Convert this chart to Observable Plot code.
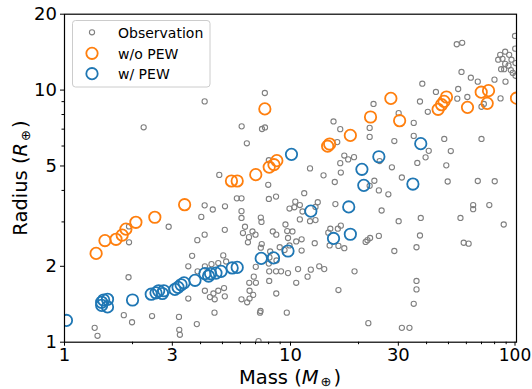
<!DOCTYPE html>
<html>
<head>
<meta charset="utf-8">
<script src="https://cdn.jsdelivr.net/npm/d3@7"></script>
<script src="https://cdn.jsdelivr.net/npm/@observablehq/plot@0.6"></script>
<style>
  html, body { margin: 0; padding: 0; background: white; }
</style>
</head>
<body>
<div id="chart"></div>
<script>
// [mass (M_earth), radius (R_earth)]
const observations = [
[2.24,7.12],[4.17,9.02],[7.70,9.74],[6.08,7.18],[7.48,7.01],[7.71,7.11],[6.41,6.15],[4.84,4.61],[8.02,5.27],[7.97,4.21],[5.79,3.72],[6.07,3.72],
[23.3,8.81],[30.1,8.10],[15.5,7.51],[16.6,7.00],[22.4,7.08],[22.4,6.52],[28.8,6.28],[16.1,6.22],[17.3,5.50],[18.0,5.31],[19.1,5.42],[16.6,5.13],[24.8,5.23],[28.1,4.94],[12.2,4.89],[16.7,4.71],[14.0,4.59],[31.1,4.50],[15.7,4.32],[23.5,4.37],[24.6,4.00],[27.1,3.86],[22.4,4.17],[11.5,3.90],[8.63,3.78],[8.02,3.70],
[54.4,15.2],[57.5,15.4],[98.5,16.4],[98.7,14.6],[89.1,14.2],[84.7,13.8],[92.8,13.8],[86.7,13.3],[95.0,13.2],[83.0,13.2],[99.0,12.8],[89.1,12.7],[92.2,12.5],[85.5,12.1],[88.2,12.1],[94.4,12.0],[96.3,11.7],[99.0,11.4],[89.4,10.8],[79.9,11.0],[57.1,11.8],[62.8,11.2],[67.4,10.8],[38.3,10.6],[44.0,9.83],[55.2,10.1],[37.4,9.01],[40.5,8.20],[54.7,9.25],[60.6,9.39],[70.0,8.59],[71.7,8.81],[85.0,9.27],[35.1,7.41],[35.1,6.58],[40.9,5.74],[39.6,5.41],[36.4,5.14],[47.9,6.40],[51.2,5.73],[48.9,5.03],[70.0,6.40],[49.6,4.34],[67.4,4.36],[80.1,4.35],
[64.3,3.50],[64.3,3.37],[75.8,3.50],[56.5,3.11],[87.8,2.93],[37.7,3.11],[37.4,2.65],[36.1,2.38],[58.4,2.48],[61.4,2.46],[36.1,1.75],[36.1,1.62],[35.1,1.42],[31.1,1.14],[33.6,1.14],[30.1,3.02],[28.8,2.30],
[22.1,1.19],[16.3,1.61],[19.2,1.91],[25.3,3.33],[24.6,2.64],[21.5,2.50],[21.9,2.54],[22.5,2.59],[15.8,3.53],[13.2,3.59],[12.9,3.44],[10.5,3.61],[11.0,3.50],[9.90,3.39],[11.3,3.30],[10.4,3.43],[12.2,3.02],[12.9,3.05],[11.0,3.07],[9.50,2.93],[16.7,2.90],[16.2,2.82],[15.0,2.82],[14.7,2.72],[9.67,2.76],[10.2,2.75],[9.75,2.59],[10.6,2.51],[11.2,2.56],[11.2,2.31],[12.8,2.47],[14.9,2.42],[16.3,2.41],[17.3,2.36],[8.35,2.75],[8.65,2.67],[7.46,2.45],[8.96,2.38],[9.41,2.32],[8.02,2.05],[8.67,2.11],[8.05,1.91],[8.63,1.91],[9.08,1.91],[9.75,1.88],[10.8,1.95],[12.3,1.94],[13.4,2.00],[14.1,1.95],[11.9,1.82],[10.6,1.72],[8.05,1.75],[8.65,1.56],[9.63,1.31],
[4.17,3.49],[4.53,3.36],[5.13,3.46],[6.07,3.31],[6.07,3.11],[4.03,3.14],[7.39,3.12],[7.44,3.00],[2.89,2.87],[5.12,2.79],[6.29,2.87],[6.16,2.71],[6.55,2.61],[6.48,2.49],[6.79,2.75],[7.00,2.67],[4.17,2.67],[3.87,2.54],[3.67,2.20],[7.39,2.37],[8.13,2.29],[8.07,2.17],[9.90,2.42],[5.04,2.21],[5.19,2.09],[4.79,2.06],[4.47,2.04],[3.53,2.00],[4.18,2.00],[3.88,1.91],[7.02,1.99],[6.88,1.82],[6.57,1.72],[7.03,1.72],[5.08,1.64],[5.12,1.52],[4.79,1.60],[4.56,1.56],[4.40,1.51],[4.62,1.48],[4.18,1.60],[3.53,1.49],[6.59,1.60],[6.84,1.54],[6.59,1.49],[6.07,1.48],[6.43,1.44],[4.61,1.31],[7.37,1.33],[7.33,1.31],[3.21,1.26],[3.85,1.18],[3.22,1.12],[3.24,1.07],[7.22,1.01],
[1.36,1.14],[1.40,1.06],[1.83,1.28],[1.99,1.20],[2.44,1.27],[1.93,2.49],[1.93,2.88],[1.92,1.81]
];

const withoutPEW = [
[1.38,2.25],[1.51,2.53],[1.69,2.56],[1.80,2.66],[1.87,2.81],[2.07,2.99],[2.51,3.13],[3.40,3.51],
[5.48,4.36],[5.81,4.36],[7.02,4.62],[8.05,4.95],[8.45,5.06],[8.70,5.25],[7.70,8.42],
[14.6,5.99],[14.9,6.11],[18.4,6.61],[22.6,7.82],[27.8,9.27],[30.4,7.56],
[45.0,8.39],[46.6,8.75],[47.8,9.02],[49.0,9.39],[60.7,8.54],[69.8,9.81],[75.2,9.95],[74.2,8.86],[100,9.29]
];

const withPEW = [
[1.02,1.22],[1.46,1.44],[1.49,1.47],[1.55,1.48],[1.46,1.40],[1.55,1.38],[2.00,1.47],
[2.42,1.55],[2.54,1.57],[2.61,1.60],[2.71,1.56],[2.75,1.60],[3.08,1.62],[3.18,1.65],[3.28,1.69],[3.38,1.72],
[3.78,1.76],[4.18,1.87],[4.34,1.83],[4.43,1.87],[4.68,1.88],[4.93,1.91],[5.52,1.97],[5.81,1.98],
[7.42,2.15],[8.41,2.16],[9.75,2.30],[10.1,5.56],[12.3,3.31],[15.5,2.58],[18.1,3.44],[18.4,2.68],
[20.7,4.85],[21.1,4.19],[24.6,5.44],[34.8,4.24],[37.7,6.13]
];

const xMajorTicks = [1, 3, 10, 30];
const xLastTick = [100];
const xMinorTicks = [2, 4, 5, 6, 7, 8, 9, 20, 40, 50, 60, 70, 80, 90];
const yMajorTicks = [1, 2, 5, 10, 20];
const yMinorTicks = [3, 4, 6, 7, 8, 9];

const legendLabels = ["Observation", "w/o PEW", "w/ PEW"];
const colors = {obs: "#808080", wo: "#ff7f0e", w: "#1f77b4"};

const chart = Plot.plot({
  width: 532,
  height: 389,
  marginLeft: 64,
  marginRight: 16,
  marginTop: 13.7,
  marginBottom: 47.3,
  style: {fontFamily: "DejaVu Sans", fontSize: "18px", color: "black", background: "white"},
  x: {type: "log", domain: [1, 100]},
  y: {type: "log", domain: [1, 20]},
  marks: [
    Plot.dot(observations, {x: d => d[0], y: d => d[1], r: 2.6, stroke: colors.obs, strokeWidth: 1.1, fill: "none", clip: true}),
    Plot.dot(withoutPEW, {x: d => d[0], y: d => d[1], r: 5.7, stroke: colors.wo, strokeWidth: 1.8, fill: "none", clip: true}),
    Plot.dot(withPEW, {x: d => d[0], y: d => d[1], r: 5.7, stroke: colors.w, strokeWidth: 1.8, fill: "none", clip: true}),
    Plot.axisX({ticks: xMinorTicks, tickSize: 2.5, tickFormat: () => "", label: null, strokeWidth: 1}),
    Plot.axisX({ticks: xMajorTicks, tickSize: 4, tickPadding: 2.5, tickFormat: d => String(d), label: null, fontSize: 18, strokeWidth: 1}),
    Plot.axisX({ticks: xLastTick, tickSize: 4, tickPadding: 2.5, tickFormat: d => String(d), label: null, fontSize: 17, dx: -1.5, strokeWidth: 1}),
    Plot.axisY({ticks: yMinorTicks, tickSize: 2.5, tickFormat: () => "", label: null, strokeWidth: 1}),
    Plot.axisY({ticks: yMajorTicks, tickSize: 4, tickPadding: 3.5, tickFormat: d => String(d), label: null, fontSize: 18, strokeWidth: 1}),
    Plot.frame({stroke: "black", strokeWidth: 1.2})
  ]
});

const svg = d3.select(chart);

// Axis labels
const xl = svg.append("text")
  .attr("x", 290).attr("y", 384)
  .attr("text-anchor", "middle")
  .attr("font-size", 19.5).attr("fill", "black")
  .attr("font-family", "DejaVu Sans");
xl.append("tspan").text("Mass (");
xl.append("tspan").attr("font-style", "italic").text("M");
xl.append("tspan").attr("font-size", 13).attr("dy", 1.5).attr("dx", 2).text("⊕");
xl.append("tspan").attr("dy", -1.5).attr("dx", 2).text(")");

const yl = svg.append("text")
  .attr("transform", "translate(27,178) rotate(-90)")
  .attr("text-anchor", "middle")
  .attr("font-size", 19.5).attr("fill", "black")
  .attr("font-family", "DejaVu Sans");
yl.append("tspan").text("Radius (");
yl.append("tspan").attr("font-style", "italic").text("R");
yl.append("tspan").attr("font-size", 13).attr("dy", 2.5).attr("dx", 2).text("⊕");
yl.append("tspan").attr("dy", -2.5).attr("dx", 2).text(")");

// Legend
const lg = svg.append("g").attr("font-family", "DejaVu Sans").attr("font-size", 14).attr("text-anchor", "start");
lg.append("rect")
  .attr("x", 72.5).attr("y", 20.5).attr("width", 137.5).attr("height", 66.5)
  .attr("rx", 3).attr("fill", "white").attr("fill-opacity", 0.8)
  .attr("stroke", "#cccccc").attr("stroke-width", 1);
const entries = [
  {label: legendLabels[0], color: colors.obs, r: 2.6, sw: 1.1, y: 32.3},
  {label: legendLabels[1], color: colors.wo, r: 5.7, sw: 1.8, y: 53.3},
  {label: legendLabels[2], color: colors.w, r: 5.7, sw: 1.8, y: 73.7}
];
for (const e of entries) {
  lg.append("circle").attr("cx", 92).attr("cy", e.y).attr("r", e.r)
    .attr("fill", "none").attr("stroke", e.color).attr("stroke-width", e.sw);
  lg.append("text").attr("x", 118).attr("y", e.y + 5.2).attr("text-anchor", "start").attr("fill", "black").text(e.label);
}

document.getElementById("chart").appendChild(chart);
</script>
</body>
</html>
